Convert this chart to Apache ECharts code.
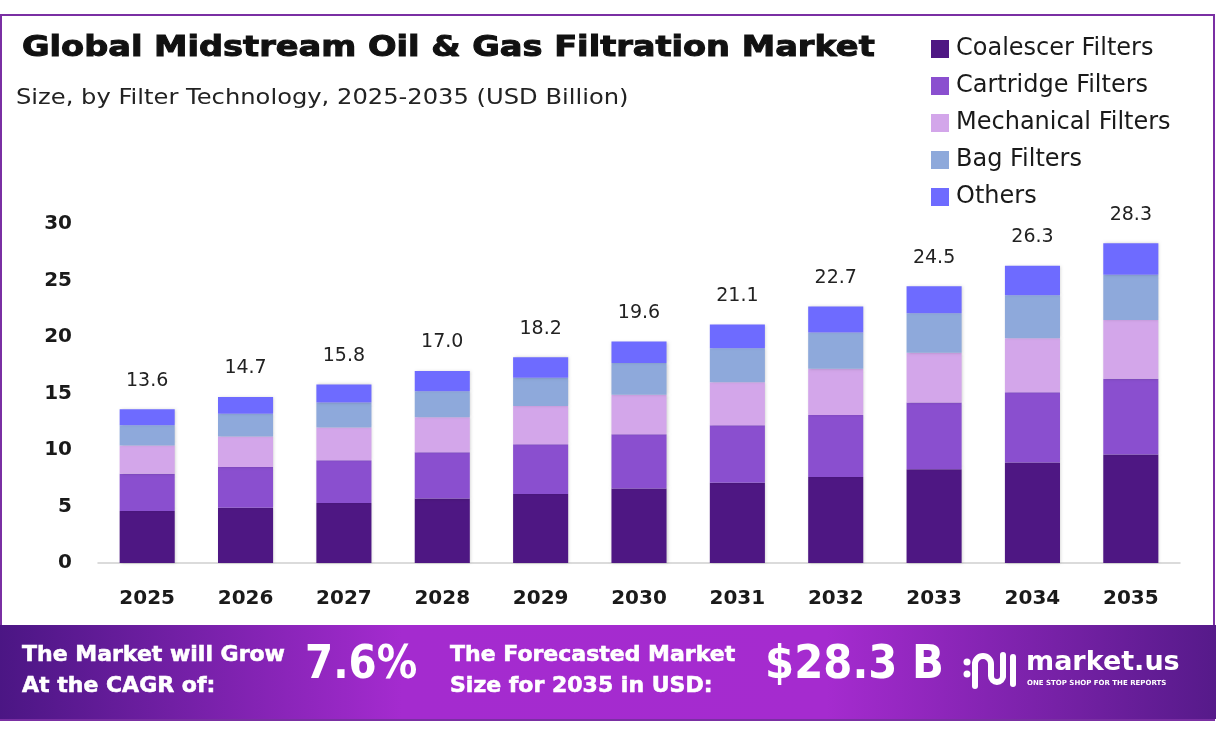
<!DOCTYPE html>
<html>
<head>
<meta charset="utf-8">
<script src="https://cdn.jsdelivr.net/npm/echarts@6/dist/echarts.min.js"></script>
<style>
html,body{margin:0;padding:0;background:#fff;}
#chart{width:1216px;height:730px;}
</style>
</head>
<body>
<div id="chart"></div>
<script>
const years = ['2025','2026','2027','2028','2029','2030','2031','2032','2033','2034','2035'];
const coalescer = [4.6, 4.9, 5.3, 5.7, 6.1, 6.6, 7.1, 7.6, 8.3, 8.9, 9.6];
const cartridge = [3.3, 3.6, 3.8, 4.1, 4.4, 4.8, 5.1, 5.5, 5.9, 6.2, 6.7];
const mechanical = [2.5, 2.7, 2.9, 3.1, 3.4, 3.5, 3.8, 4.1, 4.4, 4.8, 5.2];
const bag = [1.8, 2.0, 2.2, 2.3, 2.5, 2.8, 3.0, 3.2, 3.5, 3.8, 4.0];
const others = [1.4, 1.5, 1.6, 1.8, 1.8, 1.9, 2.1, 2.3, 2.4, 2.6, 2.8];
const totals = [13.6, 14.7, 15.8, 17.0, 18.2, 19.6, 21.1, 22.7, 24.5, 26.3, 28.3];
const yTicks = [0, 5, 10, 15, 20, 25, 30];
const seriesNames = ['Coalescer Filters','Cartridge Filters','Mechanical Filters','Bag Filters','Others'];
const seriesColors = ['#4E1783','#8A4FCF','#D3A6EA','#8EA9DB','#6E6BFF'];
const cagrText = '7.6%';
const forecastText = '$28.3 B';

const FONT = '"DejaVu Sans", Inter, sans-serif';
const dataSets = [coalescer, cartridge, mechanical, bag, others];

const chart = echarts.init(document.getElementById('chart'), null, {renderer:'canvas'});

const series = dataSets.map((d, i) => ({
  name: seriesNames[i],
  type: 'bar',
  stack: 'total',
  barWidth: '56%',
  data: d,
  itemStyle: {
    color: seriesColors[i],
    shadowBlur: 3,
    shadowColor: 'rgba(0,0,0,0.18)',
    shadowOffsetX: 1
  },
  label: i === dataSets.length - 1 ? {
    show: true,
    position: 'top',
    distance: 19,
    fontFamily: FONT,
    fontSize: 19,
    color: '#222',
    formatter: p => totals[p.dataIndex].toFixed(1)
  } : {show:false},
  emphasis: {disabled: true}
}));

function txt(x, y, text, font, extra, sx) {
  return {type:'text', x:x, y:y, z:5, scaleX: sx || 1,
    style:Object.assign({text:text, font:font, fill:'#fff', textVerticalAlign:'top'}, extra||{})};
}

chart.setOption({
  animation: false,
  textStyle: {fontFamily: FONT},
  grid: {left: 98, right: 36, top: 224, bottom: 167},
  legend: {
    orient: 'vertical',
    left: 926,
    top: 32,
    icon: 'rect',
    itemWidth: 18,
    itemHeight: 18,
    itemGap: 13,
    data: seriesNames,
    textStyle: {fontFamily: FONT, fontSize: 24, color: '#1a1a1a', padding:[0,0,0,2]}
  },
  xAxis: {
    type: 'category',
    data: years,
    axisTick: {show: false},
    axisLine: {lineStyle: {color: '#cfcfcf', width: 1.5}},
    axisLabel: {fontFamily: FONT, fontSize: 20, fontWeight: 'bold', color: '#1a1a1a', margin: 26}
  },
  yAxis: {
    type: 'value',
    min: yTicks[0],
    max: yTicks[yTicks.length - 1],
    interval: yTicks[1] - yTicks[0],
    splitLine: {show: false},
    axisLine: {show: false},
    axisTick: {show: false},
    axisLabel: {fontFamily: FONT, fontSize: 20, fontWeight: 'bold', color: '#1a1a1a', margin: 26}
  },
  series: series,
  graphic: [
    {type:'rect', shape:{x:1, y:15, width:1213, height:705}, style:{fill:'none', stroke:'#7A2FA3', lineWidth:2}, z:0, silent:true},
    txt(22, 35, 'Global Midstream Oil & Gas Filtration Market', 'bold 28px '+FONT, {fill:'#111', stroke:'#111', lineWidth:1}, 1.2),
    txt(16, 87, 'Size, by Filter Technology, 2025-2035 (USD Billion)', '22px '+FONT, {fill:'#222'}, 1.1),
    {type:'rect', shape:{x:0, y:625, width:1216, height:94},
      style:{fill:new echarts.graphic.LinearGradient(0,0,1,0,[
        {offset:0, color:'#4B1684'},
        {offset:0.33, color:'#A42BCF'},
        {offset:0.68, color:'#A52BCF'},
        {offset:1, color:'#561A8A'}
      ])}, z:1, silent:true},
    txt(22, 644, 'The Market will Grow', 'bold 22px '+FONT, {stroke:'#fff', lineWidth:0.6}),
    txt(22, 675, 'At the CAGR of:', 'bold 22px '+FONT, {stroke:'#fff', lineWidth:0.6}),
    txt(305, 643, cagrText, 'bold 46px '+FONT, {shadowBlur:6, shadowColor:'rgba(0,0,0,0.35)'}, 0.88),
    txt(450, 644, 'The Forecasted Market', 'bold 22px '+FONT, {stroke:'#fff', lineWidth:0.6}),
    txt(450, 675, 'Size for 2035 in USD:', 'bold 22px '+FONT, {stroke:'#fff', lineWidth:0.6}),
    txt(765, 643, forecastText, 'bold 46px '+FONT, {shadowBlur:6, shadowColor:'rgba(0,0,0,0.35)'}, 0.91),
    {type:'circle', z:5, shape:{cx:967, cy:662, r:3.5}, style:{fill:'#fff'}},
    {type:'circle', z:5, shape:{cx:967, cy:674, r:3.5}, style:{fill:'#fff'}},
    {type:'line', z:5, shape:{x1:975, y1:686, x2:975, y2:664}, style:{stroke:'#fff', lineWidth:6, lineCap:'round'}},
    {type:'arc', z:5, shape:{cx:983, cy:664, r:8, startAngle:Math.PI, endAngle:2*Math.PI, clockwise:true}, style:{stroke:'#fff', lineWidth:6, fill:null}},
    {type:'line', z:5, shape:{x1:991, y1:664, x2:991, y2:676}, style:{stroke:'#fff', lineWidth:6}},
    {type:'arc', z:5, shape:{cx:997, cy:676, r:6, startAngle:0, endAngle:Math.PI, clockwise:true}, style:{stroke:'#fff', lineWidth:6, fill:null}},
    {type:'line', z:5, shape:{x1:1003, y1:676, x2:1003, y2:655}, style:{stroke:'#fff', lineWidth:6, lineCap:'round'}},
    {type:'line', z:5, shape:{x1:1013, y1:657, x2:1013, y2:684}, style:{stroke:'#fff', lineWidth:6, lineCap:'round'}},
    txt(1026, 649, 'market.us', 'bold 27px '+FONT),
    txt(1027, 680, 'ONE STOP SHOP FOR THE REPORTS', 'bold 7px '+FONT)
  ]
});
</script>
</body>
</html>
